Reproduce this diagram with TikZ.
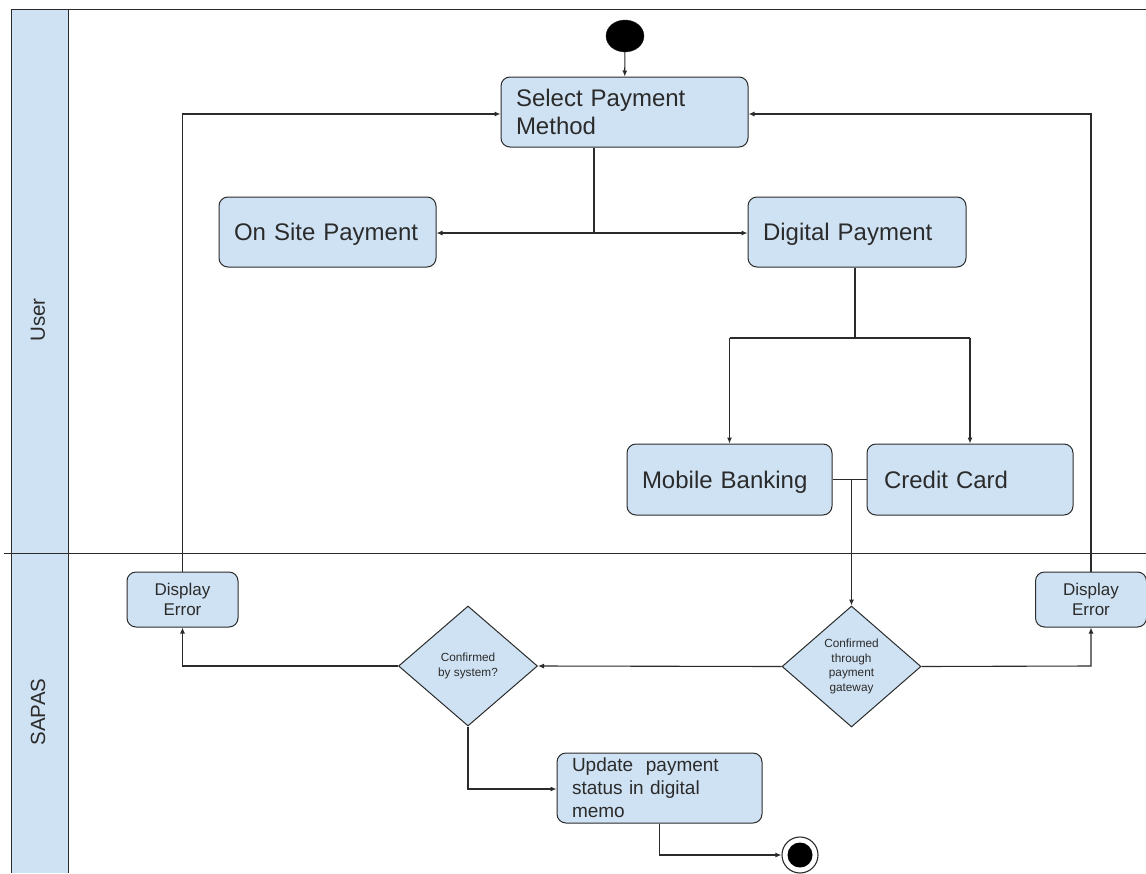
\documentclass[tikz,border=0pt]{standalone}
\usepackage{fontspec}
\setmainfont{Liberation Sans}
\usetikzlibrary{shapes.geometric,arrows.meta}
\definecolor{actfill}{HTML}{CFE2F3}
\definecolor{ink}{HTML}{2B2B2B}
\tikzset{
  flow/.style={draw=ink, line width=1.1pt, -{Latex[length=6pt,width=5pt]}},
  plain/.style={draw=ink, line width=1.1pt},
  lane/.style={draw=ink, line width=1pt},
  action/.style={draw=ink, line width=1pt, fill=actfill, rounded corners=9pt,
    inner sep=0pt, align=left, text=ink},
  bigact/.style={action, font=\fontsize{24}{28}\selectfont},
  oneline/.style={bigact, text depth=0pt},
  smallact/.style={action, align=center, font=\fontsize{17}{20}\selectfont},
  decision/.style={diamond, draw=ink, line width=1pt, fill=actfill, inner sep=0pt,
    align=center, text=ink, font=\fontsize{11.8}{14.5}\selectfont},
  lanelabel/.style={rotate=90, text=ink, font=\fontsize{20.5}{24}\selectfont}
}
\begin{document}
\begin{tikzpicture}[x=1pt,y=-1pt]
  % canvas
  \path[use as bounding box, fill=white] (0,0) rectangle (1146,873);

  % swimlanes
  \fill[actfill] (11,9) rectangle (68,873);
  \draw[lane] (11,873) -- (11,9) -- (1146,9);
  \draw[lane] (68,9) -- (68,873);
  \draw[lane] (4,553) -- (1146,553);
  \node[lanelabel] (laneuser) at (38,320) {User};
  \node[lanelabel] (lanesapas) at (38,712) {SAPAS};

  % start and end
  \node[ellipse, fill=black, draw=ink, minimum width=38pt, minimum height=32pt, inner sep=0pt] (start) at (625,36) {};
  \node[circle, draw=ink, line width=1.1pt, fill=white, minimum size=36pt, inner sep=0pt] (finish) at (800,855) {};
  \fill[black] (finish.center) circle (12.5pt);

  % actions
  \node[bigact, minimum width=247pt, minimum height=70pt, text width=217pt] (select) at (624.5,112) {Select Payment\\Method};
  \node[oneline, minimum width=217pt, minimum height=70pt, text width=187pt] (onsite) at (327.5,232) {On Site Payment};
  \node[oneline, minimum width=218pt, minimum height=70pt, text width=188pt] (digital) at (857,232) {Digital Payment};
  \node[oneline, minimum width=205pt, minimum height=71pt, text width=175pt] (mobile) at (729.5,479.5) {Mobile Banking};
  \node[oneline, minimum width=206pt, minimum height=71pt, text width=172pt] (credit) at (970,479.5) {Credit Card};
  \node[smallact, minimum width=111pt, minimum height=55pt] (errleft) at (182.5,599.5) {Display\\Error};
  \node[smallact, minimum width=111pt, minimum height=55pt] (errright) at (1091,599.5) {Display\\Error};
  \node[action, font=\fontsize{19}{23}\selectfont, minimum width=205pt, minimum height=70pt, text width=175pt] (update) at (659.5,788) {Update~~payment\\status in digital\\memo};

  % decisions
  \node[decision, minimum width=139pt, minimum height=120pt] (sysok) at (468,666) {Confirmed\\by system?};
  \node[decision, minimum width=139pt, minimum height=121pt] (gateway) at (851.5,666.5) {Confirmed\\through\\payment\\gateway};

  % junction points
  \coordinate (splitA) at (594,233);
  \coordinate (splitB) at (855,338);
  \coordinate (splitBl) at (729.5,338);
  \coordinate (splitBr) at (970,338);
  \coordinate (merge) at (851.5,479.5);
  \coordinate (cornerL) at (182.5,666);
  \coordinate (cornerR) at (1091,666);
  \coordinate (upL) at (182.5,114);
  \coordinate (upR) at (1091,114);
  \coordinate (downD) at (468,789);
  \coordinate (downU) at (659.5,855);

  % connectors
  \draw[flow] (start) -- (select);
  \draw[plain] (select.south -| splitA) -- (splitA);
  \draw[flow] (splitA) -- (onsite.east |- splitA);
  \draw[flow] (splitA) -- (digital.west |- splitA);
  \draw[plain] (digital.south -| splitB) -- (splitB);
  \draw[plain] (splitBl) -- (splitBr);
  \draw[flow] (splitBl) -- (mobile.north);
  \draw[flow] (splitBr) -- (credit.north);
  \draw[plain] (mobile.east) -- (credit.west);
  \draw[flow] (merge) -- (gateway.north);
  \draw[flow] (gateway.west) -- (sysok.east);
  \draw[flow] (sysok.west) -- (cornerL) -- (errleft.south);
  \draw[flow] (gateway.east) -- (cornerR) -- (errright.south);
  \draw[flow] (errleft.north) -- (upL) -- (select.west |- upL);
  \draw[flow] (errright.north) -- (upR) -- (select.east |- upR);
  \draw[flow] (sysok.south) -- (downD) -- (update.west |- downD);
  \draw[flow] (update.south) -- (downU) -- (finish.west);
\end{tikzpicture}
\end{document}
